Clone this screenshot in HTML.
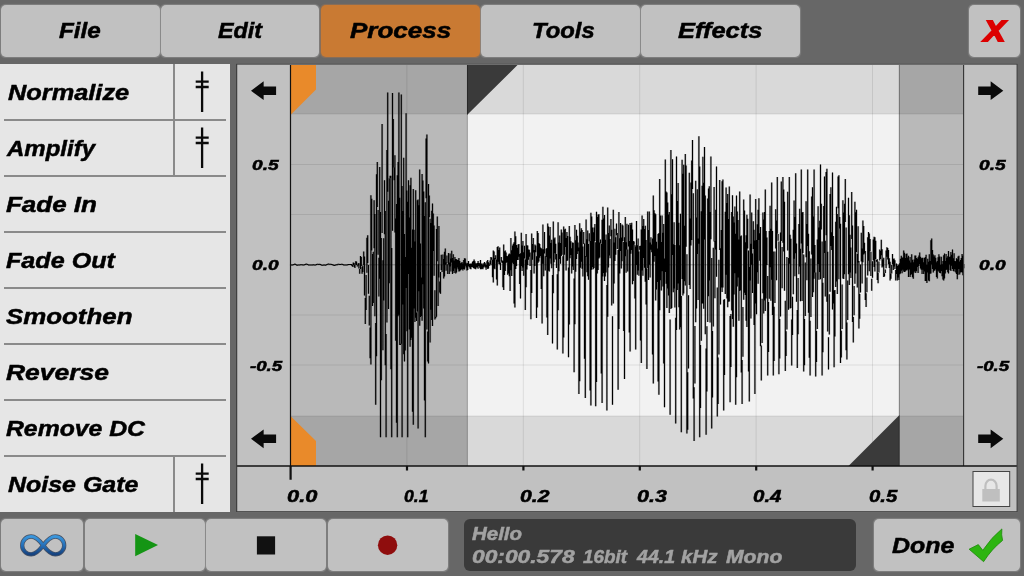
<!DOCTYPE html>
<html lang="en">
<head>
<meta charset="utf-8">
<title>Audio Editor</title>
<style>
html,body{margin:0;padding:0;}
body{width:1024px;height:576px;overflow:hidden;background:#676767;position:relative;
 font-family:"Liberation Sans",sans-serif;font-weight:bold;font-style:italic;}
ul{list-style:none;margin:0;padding:0;}
.btn,.t,.row,.sep,.vsep,svg,#side,#panel,#info{position:absolute;}
.t{white-space:nowrap;transform-origin:0 50%;display:block;}
.btn{background:#c1c1c1;border-radius:5px;box-shadow:0 0 1px 0.4px rgba(160,160,160,.45);}
.btn.on{background:#c97a33;box-shadow:0 0 1px 0.4px rgba(180,120,70,.45);}
#side{left:0;top:63.5px;width:230.3px;height:448.5px;background:#e6e6e6;}
.row{left:0;width:230.3px;height:56px;}
.sep{left:4px;top:-1px;width:222px;height:2px;background:#8a8a8a;}
.vsep{left:173px;top:0;width:2px;height:56px;background:#8a8a8a;}
.sl{left:190px;top:0;}
#panel{left:236px;top:63px;width:782px;height:450px;}
#info{left:463.6px;top:519px;width:392.6px;height:52.2px;background:#3a3a3a;border-radius:6px;}
</style>
</head>
<body>
<nav id="topbar">
<div class="btn" style="left:1.3px;top:4.6px;width:158.5px;height:52.2px"><span class="t" id="top_File" style="left:57.95px;top:13.60px;font-size:21.37px;line-height:26px;-webkit-text-stroke:0.5px #000;transform:scaleX(1.1342)">File</span></div>
<div class="btn" style="left:161.3px;top:4.6px;width:158.1px;height:52.2px"><span class="t" id="top_Edit" style="left:56.70px;top:13.60px;font-size:21.37px;line-height:26px;-webkit-text-stroke:0.5px #000;transform:scaleX(1.0909)">Edit</span></div>
<div class="btn on" style="left:321.3px;top:4.6px;width:158.5px;height:52.2px"><span class="t" id="top_Process" style="left:28.45px;top:13.60px;font-size:21.37px;line-height:26px;-webkit-text-stroke:0.5px #000;transform:scaleX(1.2176)">Process</span></div>
<div class="btn" style="left:481.3px;top:4.6px;width:158.3px;height:52.2px"><span class="t" id="top_Tools" style="left:51.10px;top:13.60px;font-size:21.37px;line-height:26px;-webkit-text-stroke:0.5px #000;transform:scaleX(1.1152)">Tools</span></div>
<div class="btn" style="left:641.3px;top:4.6px;width:158.3px;height:52.2px"><span class="t" id="top_Effects" style="left:36.80px;top:13.60px;font-size:21.37px;line-height:26px;-webkit-text-stroke:0.5px #000;transform:scaleX(1.1910)">Effects</span></div>
<div class="btn close" style="left:968.8px;top:4.6px;width:51.2px;height:52.2px"><span class="t" id="top_X" style="left:15.40px;top:7.97px;font-size:29.94px;line-height:36px;color:#dc0000;-webkit-text-stroke:1.9px #dc0000;transform:scaleX(1.0612)">X</span></div>
</nav>
<ul id="side">
<li class="row" style="top:0.5px">
<span class="t" id="row_0" style="left:7.50px;top:14.54px;font-size:22.53px;line-height:28px;-webkit-text-stroke:0.5px #000;transform:scaleX(1.1260)">Normalize</span>
<div class="vsep"></div>
<svg class="sl" width="26" height="56" viewBox="0 0 26 56"><path d="M12.1 7.4V48M5.7 17.6h13M5.7 23h13" stroke="#0a0a0a" stroke-width="2.3" fill="none"/></svg>
</li>
<li class="row" style="top:56.5px">
<div class="sep"></div>
<span class="t" id="row_1" style="left:6.75px;top:14.54px;font-size:22.53px;line-height:28px;-webkit-text-stroke:0.5px #000;transform:scaleX(1.0657)">Amplify</span>
<div class="vsep"></div>
<svg class="sl" width="26" height="56" viewBox="0 0 26 56"><path d="M12.1 7.4V48M5.7 17.6h13M5.7 23h13" stroke="#0a0a0a" stroke-width="2.3" fill="none"/></svg>
</li>
<li class="row" style="top:112.5px">
<div class="sep"></div>
<span class="t" id="row_2" style="left:6.25px;top:14.54px;font-size:22.53px;line-height:28px;-webkit-text-stroke:0.5px #000;transform:scaleX(1.1540)">Fade In</span>
</li>
<li class="row" style="top:168.5px">
<div class="sep"></div>
<span class="t" id="row_3" style="left:6.25px;top:14.54px;font-size:22.53px;line-height:28px;-webkit-text-stroke:0.5px #000;transform:scaleX(1.1165)">Fade Out</span>
</li>
<li class="row" style="top:224.5px">
<div class="sep"></div>
<span class="t" id="row_4" style="left:6.25px;top:14.54px;font-size:22.53px;line-height:28px;-webkit-text-stroke:0.5px #000;transform:scaleX(1.1490)">Smoothen</span>
</li>
<li class="row" style="top:280.5px">
<div class="sep"></div>
<span class="t" id="row_5" style="left:6.25px;top:14.54px;font-size:22.53px;line-height:28px;-webkit-text-stroke:0.5px #000;transform:scaleX(1.1746)">Reverse</span>
</li>
<li class="row" style="top:336.5px">
<div class="sep"></div>
<span class="t" id="row_6" style="left:6.25px;top:14.54px;font-size:22.53px;line-height:28px;-webkit-text-stroke:0.5px #000;transform:scaleX(1.0992)">Remove DC</span>
</li>
<li class="row" style="top:392.5px">
<div class="sep"></div>
<span class="t" id="row_7" style="left:7.50px;top:14.54px;font-size:22.53px;line-height:28px;-webkit-text-stroke:0.5px #000;transform:scaleX(1.1087)">Noise Gate</span>
<div class="vsep"></div>
<svg class="sl" width="26" height="56" viewBox="0 0 26 56"><path d="M12.1 7.4V48M5.7 17.6h13M5.7 23h13" stroke="#0a0a0a" stroke-width="2.3" fill="none"/></svg>
</li>
</ul>
<section id="panel">
<svg style="left:0;top:0" width="782" height="450" viewBox="236 63 782 450">
<rect x="236" y="63.400" width="781.800" height="449" fill="#c1c1c1"/>
<rect x="291" y="65" width="673" height="401" fill="#f2f2f2"/>
<rect x="291" y="65" width="176" height="401" fill="#b9b9b9"/>
<rect x="899" y="65" width="65" height="401" fill="#b9b9b9"/>
<rect x="291" y="65" width="673" height="49" fill="#000" fill-opacity="0.100"/>
<rect x="291" y="416" width="673" height="50" fill="#000" fill-opacity="0.100"/>
<path id="wave" d="M290.90 264.6V265.6M291.70 264.5V265.5M292.50 264.4V265.4M293.30 264.2V265.2M294.10 263.9V264.9M294.90 263.6V264.6M295.70 264.1V265.1M296.50 264.6V265.6M297.30 264.7V265.7M298.10 264.6V265.6M298.90 264.6V265.6M299.70 264.5V265.5M300.50 264.2V265.2M301.30 264.2V265.2M302.10 264.3V265.3M302.90 264.4V265.4M303.70 264.4V265.4M304.50 264.2V265.2M305.30 263.9V264.9M306.10 263.5V264.5M306.90 263.7V264.7M307.70 264.1V265.1M308.50 264.6V265.6M309.30 264.5V265.5M310.10 264.4V265.4M310.90 264.6V265.6M311.70 264.6V265.6M312.50 264.4V265.4M313.30 264.3V265.3M314.10 264.4V265.4M314.90 264.4V265.4M315.70 264.4V265.4M316.50 264.1V265.1M317.30 263.7V264.7M318.10 263.7V264.7M318.90 263.9V264.9M319.70 263.8V264.8M320.50 264.0V265.0M321.30 264.4V265.4M322.10 264.8V265.8M322.90 264.7V265.7M323.70 264.5V265.5M324.50 264.6V265.6M325.30 264.7V265.7M326.10 264.5V265.5M326.90 264.1V265.1M327.70 263.7V264.7M328.50 263.6V264.6M329.30 263.8V264.8M330.10 263.7V264.7M330.90 263.8V264.8M331.70 264.0V265.0M332.50 264.2V265.2M333.30 264.5V265.5M334.10 264.9V265.9M334.90 264.8V265.8M335.70 264.5V265.5M336.50 264.3V265.3M337.30 264.2V265.2M338.10 263.8V264.8M338.90 263.8V264.8M339.70 264.1V265.1M340.50 264.0V265.0M341.30 263.7V264.7M342.10 263.8V264.8M342.90 264.0V265.0M343.70 264.4V265.4M344.50 264.6V265.6M345.30 264.5V265.5M346.10 264.5V265.5M346.90 264.5V265.5M347.70 264.3V265.3M348.50 264.0V265.0M349.30 263.9V264.9M350.10 264.1V265.1M350.90 263.9V264.9M351.70 264.1V265.7M352.50 265.1V266.7M353.30 262.6V264.9M354.10 263.1V267.1M354.90 265.1V268.1M355.70 261.2V264.8M356.50 261.5V265.0M357.30 265.3V266.6M358.10 263.5V265.4M358.90 263.1V268.6M359.70 269.1V273.7M360.50 256.0V269.0M361.30 256.9V266.1M362.10 266.7V273.7M362.90 265.4V271.9M363.70 251.4V264.9M364.50 256.6V295.5M365.30 298.1V324.0M366.10 275.0V310.0M366.90 237.7V272.7M367.70 235.3V263.1M368.50 265.1V293.8M369.30 295.8V325.5M370.10 327.5V358.3M370.90 195.3V364.5M371.70 198.8V250.6M372.50 254.0V305.9M373.30 251.7V303.1M374.10 200.3V248.3M374.90 213.9V316.2M375.70 323.0V404.8M376.50 174.2V356.3M377.30 162.1V206.9M378.10 209.9V254.7M378.90 257.7V296.6M379.70 167.1V278.7M380.50 212.1V437.3M381.30 237.9V380.3M382.10 123.9V232.9M382.90 260.2V350.2M383.70 238.3V300.5M384.50 180.3V234.2M385.30 211.1V365.3M386.10 333.9V437.3M386.90 150.0V322.4M387.70 92.5V191.7M388.50 200.7V309.0M389.30 178.2V283.3M390.10 175.8V178.1M390.90 175.7V369.3M391.70 247.9V437.3M392.50 93.0V230.7M393.30 118.9V167.4M394.10 167.5V180.3M394.90 155.3V232.6M395.70 218.5V340.7M396.50 204.1V422.7M397.30 175.3V437.3M398.10 162.1V316.3M398.90 92.5V314.8M399.70 197.7V345.1M400.50 343.8V344.9M401.30 94.5V343.7M402.10 186.0V437.3M402.90 210.9V304.4M403.70 157.8V354.3M404.50 234.1V361.5M405.30 257.1V350.5M406.10 113.3V287.9M406.90 190.6V331.3M407.70 201.7V437.3M408.50 180.3V274.0M409.30 217.4V329.5M410.10 185.3V346.7M410.90 177.8V339.9M411.70 247.7V337.7M412.50 229.5V411.8M413.30 189.0V424.8M414.10 229.8V308.5M414.90 241.6V321.9M415.70 190.3V317.7M416.50 312.6V321.1M417.30 200.3V311.6M418.10 199.6V428.5M418.90 205.3V291.3M419.70 169.6V325.7M420.50 243.4V317.0M421.30 277.4V315.9M422.10 174.0V320.8M422.90 180.4V284.3M423.70 191.5V308.5M424.50 216.1V400.4M425.30 202.3V437.3M426.10 138.5V198.3M426.90 134.5V329.4M427.70 331.4V361.5M428.50 184.0V363.5M429.30 195.6V217.3M430.10 218.7V342.5M430.90 222.9V309.8M431.70 210.7V320.0M432.50 203.4V325.9M433.30 213.4V250.9M434.10 225.4V275.7M434.90 290.3V319.5M435.70 316.8V318.2M436.50 228.9V316.7M437.30 216.5V261.2M438.10 264.2V305.9M438.90 225.9V277.6M439.70 281.5V292.4M440.50 272.0V293.7M441.30 254.8V270.0M442.10 264.6V272.1M442.90 254.4V264.5M443.70 259.1V278.4M444.50 251.7V276.5M445.30 248.6V264.8M446.10 262.6V270.7M446.90 255.5V263.2M447.70 264.2V274.1M448.50 252.9V264.6M449.30 262.5V273.9M450.10 253.4V266.4M450.90 258.6V271.6M451.70 250.8V262.5M452.50 258.1V274.0M453.30 254.2V271.1M454.10 260.6V273.0M454.90 256.9V268.6M455.70 259.0V273.4M456.50 259.3V272.5M457.30 259.9V267.5M458.10 259.7V269.3M458.90 257.9V271.5M459.70 260.9V271.2M460.50 263.3V270.2M461.30 262.7V269.4M462.10 262.0V269.3M462.90 263.6V270.6M463.70 260.1V268.9M464.50 258.3V269.6M465.30 258.5V265.8M466.10 262.8V267.6M466.90 263.7V270.5M467.70 262.9V269.9M468.50 261.1V266.3M469.30 263.8V267.3M470.10 263.8V268.7M470.90 263.5V269.2M471.70 263.4V267.0M472.50 261.7V267.0M473.30 261.0V268.1M474.10 259.6V268.4M474.90 261.3V268.7M475.70 263.2V269.2M476.50 263.5V267.4M477.30 263.1V267.4M478.10 260.9V268.8M478.90 263.0V266.0M479.70 263.3V267.8M480.50 260.1V269.2M481.30 263.4V269.2M482.10 263.5V268.7M482.90 264.8V269.2M483.70 263.3V267.5M484.50 262.1V266.5M485.30 263.3V267.6M486.10 265.0V269.8M486.90 261.3V267.5M487.70 260.1V268.9M488.50 262.2V268.4M489.30 263.4V265.9M490.10 260.5V264.1M490.90 257.1V265.3M491.70 257.5V259.7M492.50 259.8V277.3M493.30 250.4V282.5M494.10 251.5V268.5M494.90 258.1V269.2M495.70 255.3V259.3M496.50 259.6V279.4M497.30 247.0V285.5M498.10 246.3V261.7M498.90 250.0V264.0M499.70 247.6V264.4M500.50 262.5V270.0M501.30 257.1V261.8M502.10 260.2V263.1M502.90 261.1V287.3M503.70 244.6V289.9M504.50 251.2V275.0M505.30 250.4V270.9M506.10 252.5V263.2M506.90 256.1V262.3M507.70 256.3V274.8M508.50 254.6V273.5M509.30 253.4V276.3M510.10 254.2V291.1M510.90 238.0V270.3M511.70 250.2V275.9M512.50 245.5V262.8M513.30 243.7V264.0M514.10 242.3V303.4M514.90 231.6V307.5M515.70 236.3V268.9M516.50 244.9V266.1M517.30 247.8V260.0M518.10 244.4V260.0M518.90 244.1V256.8M519.70 253.9V284.1M520.50 253.3V298.5M521.30 232.8V265.9M522.10 245.4V270.9M522.90 241.0V267.6M523.70 252.2V275.7M524.50 245.7V258.5M525.30 259.5V309.9M526.10 234.0V287.3M526.90 245.2V269.4M527.70 245.5V265.0M528.50 249.5V259.8M529.30 249.8V256.7M530.10 252.4V266.0M530.90 270.1V319.3M531.70 233.6V292.9M532.50 244.0V259.7M533.30 238.0V252.5M534.10 249.9V273.5M534.90 244.5V266.1M535.70 245.4V252.3M536.50 256.3V318.0M537.30 231.1V307.6M538.10 233.1V262.8M538.90 242.9V261.5M539.70 244.0V257.7M540.50 247.5V255.9M541.30 248.2V289.0M542.10 249.3V323.5M542.90 224.6V263.7M543.70 249.3V276.2M544.50 232.1V253.5M545.30 256.2V270.5M546.10 248.7V257.1M546.90 248.1V317.5M547.70 223.6V334.9M548.50 226.6V270.7M549.30 235.5V271.4M550.10 227.1V258.5M550.90 243.1V263.7M551.70 239.8V268.2M552.50 275.1V343.5M553.30 221.6V293.3M554.10 238.4V262.3M554.90 237.4V253.2M555.70 243.8V259.5M556.50 254.0V268.1M557.30 274.3V349.5M558.10 222.3V310.3M558.90 242.4V271.2M559.70 235.4V259.0M560.50 243.0V263.8M561.30 229.5V256.0M562.10 232.5V254.7M562.90 256.2V353.5M563.70 226.4V337.6M564.50 229.6V254.8M565.30 228.7V247.1M566.10 237.9V270.5M566.90 232.1V261.0M567.70 236.1V260.4M568.50 267.4V357.3M569.30 225.9V324.5M570.10 236.8V258.2M570.90 241.2V254.9M571.70 248.3V273.6M572.50 242.4V266.5M573.30 242.8V269.9M574.10 278.5V372.3M574.90 225.1V324.2M575.70 240.2V271.7M576.50 229.7V259.1M577.30 235.7V253.9M578.10 242.5V251.3M578.90 247.6V394.0M579.70 223.3V381.3M580.50 231.6V267.8M581.30 228.3V261.8M582.10 230.1V268.7M582.90 246.5V276.4M583.70 232.0V244.1M584.50 243.5V358.7M585.30 256.0V398.0M586.10 219.6V256.7M586.90 239.2V272.2M587.70 230.6V276.2M588.50 243.9V279.7M589.30 233.2V241.3M590.10 241.1V390.4M590.90 212.8V405.5M591.70 216.5V269.8M592.50 227.5V267.0M593.30 232.2V269.2M594.10 227.6V267.9M594.90 224.1V241.0M595.70 242.2V406.3M596.50 211.8V382.0M597.30 217.1V273.6M598.10 214.4V269.9M598.90 214.2V258.6M599.70 242.6V257.6M600.50 239.6V243.6M601.30 243.9V373.6M602.10 219.7V403.0M602.90 206.7V276.6M603.70 218.6V273.0M604.50 215.0V281.0M605.30 239.7V276.4M606.10 234.4V272.4M606.90 285.0V410.5M607.70 207.4V316.8M608.50 233.0V267.6M609.30 225.4V255.6M610.10 239.0V258.2M610.90 219.1V236.2M611.70 229.8V305.5M612.50 316.3V404.8M613.30 209.7V303.6M614.10 242.5V283.4M614.90 228.8V260.9M615.70 237.3V254.8M616.50 223.4V235.3M617.30 233.1V249.0M618.10 250.1V389.8M618.90 211.9V328.9M619.70 238.3V273.5M620.50 223.1V250.9M621.30 237.6V268.6M622.10 224.4V261.2M622.90 225.4V240.9M623.70 241.9V331.0M624.50 237.3V379.0M625.30 217.0V256.2M626.10 242.2V272.7M626.90 223.8V249.4M627.70 249.6V271.6M628.50 224.8V246.5M629.30 241.0V332.4M630.10 223.0V351.5M630.90 225.1V253.8M631.70 222.8V249.9M632.50 229.5V284.2M633.30 240.9V281.1M634.10 241.5V244.7M634.90 244.9V298.4M635.70 246.6V349.5M636.50 221.1V265.1M637.30 245.3V274.8M638.10 238.5V270.5M638.90 251.6V275.7M639.70 246.1V249.8M640.50 245.8V340.6M641.30 229.4V363.0M642.10 215.4V270.5M642.90 226.1V275.7M643.70 218.9V258.1M644.50 228.9V267.8M645.30 225.7V281.7M646.10 240.0V304.5M646.90 268.4V369.0M647.70 211.5V267.9M648.50 229.9V279.9M649.30 211.5V264.7M650.10 242.5V277.6M650.90 237.2V249.7M651.70 244.4V252.2M652.50 238.6V354.6M653.30 195.5V383.5M654.10 210.2V261.7M654.90 213.3V256.1M655.70 214.3V300.6M656.50 241.8V289.6M657.30 248.4V281.9M658.10 234.1V381.4M658.90 232.9V394.8M659.70 179.0V310.2M660.50 215.6V280.2M661.30 241.9V290.5M662.10 215.6V271.3M662.90 232.7V286.5M663.70 224.1V363.4M664.50 258.6V407.3M665.30 159.5V271.9M666.10 191.4V283.7M666.90 192.5V308.0M667.70 202.4V288.4M668.50 214.5V295.6M669.30 212.0V312.9M670.10 319.5V414.8M670.90 150.0V308.9M671.70 194.3V307.9M672.50 159.2V255.1M673.30 244.2V292.2M674.10 222.3V288.4M674.90 245.0V307.4M675.70 317.8V423.5M676.50 156.5V330.0M677.30 201.0V290.1M678.10 183.1V283.4M678.90 222.7V307.2M679.70 245.2V329.5M680.50 213.8V327.2M681.30 296.0V432.3M682.10 159.7V279.0M682.90 173.8V295.6M683.70 164.8V293.6M684.50 225.8V281.3M685.30 154.0V285.6M686.10 165.5V246.7M686.90 254.3V433.5M687.70 372.3V429.7M688.50 295.3V368.4M689.30 172.7V285.1M690.10 218.5V288.9M690.90 182.6V245.5M691.70 160.6V240.1M692.50 140.0V189.1M693.30 193.2V398.6M694.10 387.3V441.0M694.90 326.0V383.5M695.70 180.7V322.2M696.50 217.6V308.6M697.30 189.2V253.9M698.10 238.5V300.1M698.90 136.3V243.7M699.70 166.4V437.3M700.50 344.9V407.9M701.30 211.3V340.7M702.10 185.7V303.4M702.90 156.8V303.6M703.70 182.7V308.8M704.50 147.0V239.4M705.30 195.5V334.2M706.10 348.6V434.8M706.90 326.3V391.4M707.70 198.4V322.0M708.50 188.4V296.3M709.30 186.2V280.6M710.10 212.1V322.5M710.90 156.5V239.2M711.70 258.1V428.5M712.50 331.0V397.5M713.30 247.8V326.6M714.10 187.1V241.6M714.90 240.9V298.2M715.70 209.8V249.5M716.50 166.5V276.7M717.30 287.4V416.5M718.10 357.6V404.1M718.90 259.7V354.5M719.70 179.9V249.9M720.50 248.3V304.4M721.30 230.1V287.5M722.10 181.2V291.9M722.90 179.5V287.4M723.70 299.7V410.5M724.50 299.2V375.1M725.30 211.7V294.1M726.10 187.4V274.8M726.90 203.1V298.6M727.70 194.0V307.2M728.50 219.1V301.7M729.30 186.5V301.6M730.10 316.0V402.3M730.90 313.9V366.9M731.70 211.9V310.4M732.50 195.3V318.9M733.30 216.5V326.7M734.10 222.5V294.4M734.90 206.5V273.3M735.70 233.8V404.8M736.50 195.5V377.2M737.30 211.4V286.4M738.10 219.9V277.6M738.90 239.4V320.8M739.70 191.5V291.1M740.50 236.3V290.2M741.30 235.5V372.6M742.10 360.0V404.0M742.90 307.1V356.8M743.70 199.5V299.7M744.50 210.5V292.7M745.30 242.3V295.0M746.10 235.3V320.7M746.90 214.7V327.0M747.70 218.7V248.5M748.50 250.5V371.5M749.30 266.9V401.5M750.10 194.5V280.4M750.90 243.7V318.6M751.70 212.6V264.7M752.50 253.4V293.1M753.30 221.3V249.0M754.10 229.7V324.9M754.90 240.5V394.0M755.70 199.1V303.4M756.50 240.1V314.2M757.30 224.3V272.2M758.10 209.7V283.8M758.90 198.3V240.1M759.70 233.2V260.8M760.50 226.9V346.2M761.30 345.6V380.5M762.10 298.8V342.9M762.90 212.6V293.2M763.70 219.4V313.4M764.50 211.9V300.5M765.30 189.5V310.9M766.10 231.0V298.5M766.90 237.4V265.0M767.70 276.1V375.5M768.50 302.0V352.1M769.30 231.0V298.7M770.10 205.8V267.2M770.90 228.7V300.8M771.70 182.5V279.8M772.50 231.0V315.1M773.30 251.6V375.5M774.10 306.7V361.0M774.90 251.4V303.1M775.70 209.2V248.5M776.50 220.6V280.3M777.30 177.0V233.7M778.10 234.1V240.7M778.90 241.4V374.3M779.70 319.0V358.5M780.50 232.4V316.4M781.30 181.6V241.1M782.10 247.0V288.3M782.90 177.0V242.8M783.70 189.4V251.6M784.50 201.7V290.7M785.30 300.7V371.0M786.10 331.3V356.1M786.90 257.0V329.6M787.70 191.7V250.5M788.50 257.9V309.7M789.30 177.0V263.8M790.10 234.8V308.5M790.90 238.8V307.9M791.70 319.4V365.5M792.50 296.8V335.0M793.30 229.7V294.3M794.10 200.6V258.7M794.90 217.1V276.2M795.70 173.3V253.2M796.50 243.6V301.7M797.30 310.0V368.0M798.10 278.0V334.2M798.90 224.1V274.2M799.70 208.8V266.6M800.50 248.7V301.2M801.30 169.5V243.5M802.10 212.5V300.9M802.90 212.1V253.1M803.70 254.4V371.5M804.50 319.1V365.3M805.30 262.4V316.0M806.10 201.2V257.3M806.90 223.9V280.2M807.70 169.5V246.1M808.50 233.7V312.7M809.30 251.2V357.7M810.10 320.8V375.5M810.90 258.4V316.9M811.70 196.5V254.5M812.50 187.3V297.1M813.30 216.4V292.2M814.10 169.5V278.7M814.90 245.1V272.4M815.70 272.5V376.5M816.50 330.9V362.0M817.30 239.6V328.9M818.10 206.3V264.0M818.90 227.6V279.7M819.70 220.7V271.9M820.50 164.5V279.2M821.30 203.8V229.4M822.10 241.5V375.5M822.90 282.7V352.3M823.70 206.1V278.1M824.50 176.5V252.9M825.30 240.8V296.5M826.10 172.0V235.3M826.90 168.8V301.7M827.70 251.8V331.6M828.50 337.3V369.5M829.30 294.3V334.6M830.10 194.1V291.7M830.90 187.2V246.1M831.70 232.3V250.0M832.50 172.5V309.5M833.30 236.0V303.4M834.10 290.4V367.3M834.90 290.0V336.4M835.70 221.8V286.9M836.50 206.8V281.6M837.30 214.1V294.0M838.10 176.5V208.2M838.90 175.3V279.3M839.70 217.0V228.4M840.50 223.7V363.0M841.30 330.8V357.6M842.10 284.6V329.0M842.90 200.2V278.5M843.70 212.4V278.9M844.50 203.7V274.2M845.30 179.0V222.1M846.10 227.5V350.2M846.90 322.4V359.5M847.70 280.4V319.9M848.50 197.8V274.2M849.30 215.2V284.9M850.10 234.8V272.6M850.90 247.5V278.1M851.70 192.0V239.0M852.50 225.6V322.0M853.30 317.1V342.5M854.10 285.9V315.2M854.90 201.8V283.8M855.70 212.3V273.5M856.50 209.8V252.0M857.30 254.1V287.6M858.10 226.3V262.6M858.90 260.9V328.5M859.70 294.0V318.7M860.50 264.4V292.4M861.30 232.7V261.5M862.10 248.6V283.4M862.90 220.5V262.2M863.70 226.1V254.5M864.50 242.7V253.6M865.30 251.1V299.9M866.10 293.2V307.0M866.90 277.5V292.3M867.70 237.2V275.4M868.50 232.1V260.8M869.30 233.5V271.3M870.10 238.9V251.2M870.90 251.7V275.9M871.70 278.8V290.8M872.50 261.3V277.7M873.30 239.5V260.2M874.10 236.7V267.1M874.90 237.3V271.4M875.70 240.7V259.1M876.50 259.7V261.8M877.30 259.2V280.0M878.10 273.1V283.3M878.90 261.5V272.4M879.70 249.5V260.6M880.50 250.8V259.1M881.30 239.8V255.3M882.10 249.3V267.5M882.90 259.6V266.6M883.70 257.8V277.0M884.50 273.2V276.6M885.30 269.5V273.0M886.10 250.5V268.3M886.90 247.2V256.7M887.70 248.0V259.6M888.50 249.9V264.3M889.30 258.3V268.0M890.10 261.8V280.5M890.90 273.7V278.8M891.70 265.1V273.4M892.50 254.1V264.2M893.30 258.8V269.9M894.10 258.5V266.6M894.90 260.3V269.1M895.70 269.9V280.6M896.50 263.4V274.0M897.30 266.0V280.6M898.10 264.5V277.5M898.90 265.3V280.0M899.70 263.3V274.3M900.50 258.8V273.6M901.30 255.8V270.7M902.10 257.5V273.3M902.90 257.5V269.8M903.70 250.6V271.6M904.50 252.8V272.0M905.30 258.1V271.4M906.10 253.9V270.3M906.90 253.5V270.6M907.70 257.6V269.4M908.50 255.8V277.1M909.30 260.4V269.6M910.10 256.9V276.9M910.90 262.4V275.1M911.70 254.3V274.0M912.50 259.8V277.3M913.30 262.3V278.7M914.10 259.6V272.5M914.90 255.4V271.2M915.70 255.5V272.9M916.50 257.9V271.3M917.30 258.7V267.0M918.10 257.3V272.9M918.90 255.4V266.1M919.70 252.4V263.9M920.50 256.8V268.4M921.30 258.3V269.7M922.10 257.8V273.9M922.90 257.8V269.8M923.70 262.2V273.9M924.50 257.9V271.5M925.30 256.9V280.9M926.10 254.8V281.0M926.90 264.7V283.0M927.70 258.7V272.4M928.50 261.7V280.6M929.30 254.2V281.3M930.10 260.9V273.8M930.90 240.2V273.6M931.70 238.6V264.5M932.50 250.1V269.0M933.30 254.6V272.4M934.10 256.5V270.7M934.90 255.2V270.5M935.70 257.7V269.3M936.50 262.3V277.1M937.30 260.9V278.5M938.10 257.2V270.8M938.90 254.2V271.7M939.70 256.6V273.0M940.50 264.7V273.3M941.30 256.8V271.1M942.10 264.2V276.2M942.90 261.0V279.6M943.70 255.3V280.6M944.50 253.4V278.4M945.30 260.9V273.5M946.10 254.1V270.0M946.90 257.7V269.5M947.70 256.3V272.3M948.50 250.9V273.6M949.30 257.1V264.6M950.10 256.4V270.1M950.90 252.1V271.1M951.70 254.8V265.7M952.50 249.6V268.9M953.30 258.3V271.0M954.10 253.2V271.4M954.90 261.0V269.1M955.70 261.2V272.6M956.50 258.2V273.9M957.30 259.2V279.2M958.10 256.5V274.8M958.90 255.8V269.1M959.70 261.6V274.4M960.50 259.9V272.5M961.30 258.1V272.1M962.10 254.1V272.5M962.90 255.8V275.2M963.70 264.1V268.3" fill="none" stroke="#000" stroke-width="1.10"/><path id="wave-soft" d="M290.90 264.6V265.6M291.70 264.5V265.5M292.50 264.4V265.4M293.30 264.2V265.2M294.10 263.9V264.9M294.90 263.6V264.6M295.70 264.1V265.1M296.50 264.6V265.6M297.30 264.7V265.7M298.10 264.6V265.6M298.90 264.6V265.6M299.70 264.5V265.5M300.50 264.2V265.2M301.30 264.2V265.2M302.10 264.3V265.3M302.90 264.4V265.4M303.70 264.4V265.4M304.50 264.2V265.2M305.30 263.9V264.9M306.10 263.5V264.5M306.90 263.7V264.7M307.70 264.1V265.1M308.50 264.6V265.6M309.30 264.5V265.5M310.10 264.4V265.4M310.90 264.6V265.6M311.70 264.6V265.6M312.50 264.4V265.4M313.30 264.3V265.3M314.10 264.4V265.4M314.90 264.4V265.4M315.70 264.4V265.4M316.50 264.1V265.1M317.30 263.7V264.7M318.10 263.7V264.7M318.90 263.9V264.9M319.70 263.8V264.8M320.50 264.0V265.0M321.30 264.4V265.4M322.10 264.8V265.8M322.90 264.7V265.7M323.70 264.5V265.5M324.50 264.6V265.6M325.30 264.7V265.7M326.10 264.5V265.5M326.90 264.1V265.1M327.70 263.7V264.7M328.50 263.6V264.6M329.30 263.8V264.8M330.10 263.7V264.7M330.90 263.8V264.8M331.70 264.0V265.0M332.50 264.2V265.2M333.30 264.5V265.5M334.10 264.9V265.9M334.90 264.8V265.8M335.70 264.5V265.5M336.50 264.3V265.3M337.30 264.2V265.2M338.10 263.8V264.8M338.90 263.8V264.8M339.70 264.1V265.1M340.50 264.0V265.0M341.30 263.7V264.7M342.10 263.8V264.8M342.90 264.0V265.0M343.70 264.4V265.4M344.50 264.6V265.6M345.30 264.5V265.5M346.10 264.5V265.5M346.90 264.5V265.5M347.70 264.3V265.3M348.50 264.0V265.0M349.30 263.9V264.9M350.10 264.1V265.1M350.90 263.9V264.9M351.70 264.1V265.7M352.50 265.1V266.7M353.30 262.6V264.9M354.10 263.1V267.1M354.90 265.1V268.1M355.70 261.2V264.8M356.50 261.5V265.0M357.30 265.3V266.6M358.10 263.5V265.4M358.90 263.1V268.6M359.70 269.1V273.7M360.50 256.0V269.0M361.30 256.9V266.1M362.10 266.7V273.7M362.90 265.4V271.9M363.70 251.4V264.9M364.50 256.6V295.5M365.30 298.1V324.0M366.10 275.0V310.0M366.90 237.7V272.7M367.70 235.3V263.1M368.50 265.1V293.8M369.30 295.8V325.5M370.10 327.5V358.3M370.90 195.3V364.5M371.70 198.8V250.6M372.50 254.0V305.9M373.30 251.7V303.1M374.10 200.3V248.3M374.90 213.9V316.2M375.70 323.0V404.8M376.50 174.2V356.3M377.30 162.1V206.9M378.10 209.9V254.7M378.90 257.7V296.6M379.70 167.1V278.7M380.50 212.1V437.3M381.30 237.9V380.3M382.10 123.9V232.9M382.90 260.2V350.2M383.70 238.3V300.5M384.50 180.3V234.2M385.30 211.1V365.3M386.10 333.9V437.3M386.90 150.0V322.4M387.70 92.5V191.7M388.50 200.7V309.0M389.30 178.2V283.3M390.10 175.8V178.1M390.90 175.7V369.3M391.70 247.9V437.3M392.50 93.0V230.7M393.30 118.9V167.4M394.10 167.5V180.3M394.90 155.3V232.6M395.70 218.5V340.7M396.50 204.1V422.7M397.30 175.3V437.3M398.10 162.1V316.3M398.90 92.5V314.8M399.70 197.7V345.1M400.50 343.8V344.9M401.30 94.5V343.7M402.10 186.0V437.3M402.90 210.9V304.4M403.70 157.8V354.3M404.50 234.1V361.5M405.30 257.1V350.5M406.10 113.3V287.9M406.90 190.6V331.3M407.70 201.7V437.3M408.50 180.3V274.0M409.30 217.4V329.5M410.10 185.3V346.7M410.90 177.8V339.9M411.70 247.7V337.7M412.50 229.5V411.8M413.30 189.0V424.8M414.10 229.8V308.5M414.90 241.6V321.9M415.70 190.3V317.7M416.50 312.6V321.1M417.30 200.3V311.6M418.10 199.6V428.5M418.90 205.3V291.3M419.70 169.6V325.7M420.50 243.4V317.0M421.30 277.4V315.9M422.10 174.0V320.8M422.90 180.4V284.3M423.70 191.5V308.5M424.50 216.1V400.4M425.30 202.3V437.3M426.10 138.5V198.3M426.90 134.5V329.4M427.70 331.4V361.5M428.50 184.0V363.5M429.30 195.6V217.3M430.10 218.7V342.5M430.90 222.9V309.8M431.70 210.7V320.0M432.50 203.4V325.9M433.30 213.4V250.9M434.10 225.4V275.7M434.90 290.3V319.5M435.70 316.8V318.2M436.50 228.9V316.7M437.30 216.5V261.2M438.10 264.2V305.9M438.90 225.9V277.6M439.70 281.5V292.4M440.50 272.0V293.7M441.30 254.8V270.0M442.10 264.6V272.1M442.90 254.4V264.5M443.70 259.1V278.4M444.50 251.7V276.5M445.30 248.6V264.8M446.10 262.6V270.7M446.90 255.5V263.2M447.70 264.2V274.1M448.50 252.9V264.6M449.30 262.5V273.9M450.10 253.4V266.4M450.90 258.6V271.6M451.70 250.8V262.5M452.50 258.1V274.0M453.30 254.2V271.1M454.10 260.6V273.0M454.90 256.9V268.6M455.70 259.0V273.4M456.50 259.3V272.5M457.30 259.9V267.5M458.10 259.7V269.3M458.90 257.9V271.5M459.70 260.9V271.2M460.50 263.3V270.2M461.30 262.7V269.4M462.10 262.0V269.3M462.90 263.6V270.6M463.70 260.1V268.9M464.50 258.3V269.6M465.30 258.5V265.8M466.10 262.8V267.6M466.90 263.7V270.5M467.70 262.9V269.9M468.50 261.1V266.3M469.30 263.8V267.3M470.10 263.8V268.7M470.90 263.5V269.2M471.70 263.4V267.0M472.50 261.7V267.0M473.30 261.0V268.1M474.10 259.6V268.4M474.90 261.3V268.7M475.70 263.2V269.2M476.50 263.5V267.4M477.30 263.1V267.4M478.10 260.9V268.8M478.90 263.0V266.0M479.70 263.3V267.8M480.50 260.1V269.2M481.30 263.4V269.2M482.10 263.5V268.7M482.90 264.8V269.2M483.70 263.3V267.5M484.50 262.1V266.5M485.30 263.3V267.6M486.10 265.0V269.8M486.90 261.3V267.5M487.70 260.1V268.9M488.50 262.2V268.4M489.30 263.4V265.9M490.10 260.5V264.1M490.90 257.1V265.3M491.70 257.5V259.7M492.50 259.8V277.3M493.30 250.4V282.5M494.10 251.5V268.5M494.90 258.1V269.2M495.70 255.3V259.3M496.50 259.6V279.4M497.30 247.0V285.5M498.10 246.3V261.7M498.90 250.0V264.0M499.70 247.6V264.4M500.50 262.5V270.0M501.30 257.1V261.8M502.10 260.2V263.1M502.90 261.1V287.3M503.70 244.6V289.9M504.50 251.2V275.0M505.30 250.4V270.9M506.10 252.5V263.2M506.90 256.1V262.3M507.70 256.3V274.8M508.50 254.6V273.5M509.30 253.4V276.3M510.10 254.2V291.1M510.90 238.0V270.3M511.70 250.2V275.9M512.50 245.5V262.8M513.30 243.7V264.0M514.10 242.3V303.4M514.90 231.6V307.5M515.70 236.3V268.9M516.50 244.9V266.1M517.30 247.8V260.0M518.10 244.4V260.0M518.90 244.1V256.8M519.70 253.9V284.1M520.50 253.3V298.5M521.30 232.8V265.9M522.10 245.4V270.9M522.90 241.0V267.6M523.70 252.2V275.7M524.50 245.7V258.5M525.30 259.5V309.9M526.10 234.0V287.3M526.90 245.2V269.4M527.70 245.5V265.0M528.50 249.5V259.8M529.30 249.8V256.7M530.10 252.4V266.0M530.90 270.1V319.3M531.70 233.6V292.9M532.50 244.0V259.7M533.30 238.0V252.5M534.10 249.9V273.5M534.90 244.5V266.1M535.70 245.4V252.3M536.50 256.3V318.0M537.30 231.1V307.6M538.10 233.1V262.8M538.90 242.9V261.5M539.70 244.0V257.7M540.50 247.5V255.9M541.30 248.2V289.0M542.10 249.3V323.5M542.90 224.6V263.7M543.70 249.3V276.2M544.50 232.1V253.5M545.30 256.2V270.5M546.10 248.7V257.1M546.90 248.1V317.5M547.70 223.6V334.9M548.50 226.6V270.7M549.30 235.5V271.4M550.10 227.1V258.5M550.90 243.1V263.7M551.70 239.8V268.2M552.50 275.1V343.5M553.30 221.6V293.3M554.10 238.4V262.3M554.90 237.4V253.2M555.70 243.8V259.5M556.50 254.0V268.1M557.30 274.3V349.5M558.10 222.3V310.3M558.90 242.4V271.2M559.70 235.4V259.0M560.50 243.0V263.8M561.30 229.5V256.0M562.10 232.5V254.7M562.90 256.2V353.5M563.70 226.4V337.6M564.50 229.6V254.8M565.30 228.7V247.1M566.10 237.9V270.5M566.90 232.1V261.0M567.70 236.1V260.4M568.50 267.4V357.3M569.30 225.9V324.5M570.10 236.8V258.2M570.90 241.2V254.9M571.70 248.3V273.6M572.50 242.4V266.5M573.30 242.8V269.9M574.10 278.5V372.3M574.90 225.1V324.2M575.70 240.2V271.7M576.50 229.7V259.1M577.30 235.7V253.9M578.10 242.5V251.3M578.90 247.6V394.0M579.70 223.3V381.3M580.50 231.6V267.8M581.30 228.3V261.8M582.10 230.1V268.7M582.90 246.5V276.4M583.70 232.0V244.1M584.50 243.5V358.7M585.30 256.0V398.0M586.10 219.6V256.7M586.90 239.2V272.2M587.70 230.6V276.2M588.50 243.9V279.7M589.30 233.2V241.3M590.10 241.1V390.4M590.90 212.8V405.5M591.70 216.5V269.8M592.50 227.5V267.0M593.30 232.2V269.2M594.10 227.6V267.9M594.90 224.1V241.0M595.70 242.2V406.3M596.50 211.8V382.0M597.30 217.1V273.6M598.10 214.4V269.9M598.90 214.2V258.6M599.70 242.6V257.6M600.50 239.6V243.6M601.30 243.9V373.6M602.10 219.7V403.0M602.90 206.7V276.6M603.70 218.6V273.0M604.50 215.0V281.0M605.30 239.7V276.4M606.10 234.4V272.4M606.90 285.0V410.5M607.70 207.4V316.8M608.50 233.0V267.6M609.30 225.4V255.6M610.10 239.0V258.2M610.90 219.1V236.2M611.70 229.8V305.5M612.50 316.3V404.8M613.30 209.7V303.6M614.10 242.5V283.4M614.90 228.8V260.9M615.70 237.3V254.8M616.50 223.4V235.3M617.30 233.1V249.0M618.10 250.1V389.8M618.90 211.9V328.9M619.70 238.3V273.5M620.50 223.1V250.9M621.30 237.6V268.6M622.10 224.4V261.2M622.90 225.4V240.9M623.70 241.9V331.0M624.50 237.3V379.0M625.30 217.0V256.2M626.10 242.2V272.7M626.90 223.8V249.4M627.70 249.6V271.6M628.50 224.8V246.5M629.30 241.0V332.4M630.10 223.0V351.5M630.90 225.1V253.8M631.70 222.8V249.9M632.50 229.5V284.2M633.30 240.9V281.1M634.10 241.5V244.7M634.90 244.9V298.4M635.70 246.6V349.5M636.50 221.1V265.1M637.30 245.3V274.8M638.10 238.5V270.5M638.90 251.6V275.7M639.70 246.1V249.8M640.50 245.8V340.6M641.30 229.4V363.0M642.10 215.4V270.5M642.90 226.1V275.7M643.70 218.9V258.1M644.50 228.9V267.8M645.30 225.7V281.7M646.10 240.0V304.5M646.90 268.4V369.0M647.70 211.5V267.9M648.50 229.9V279.9M649.30 211.5V264.7M650.10 242.5V277.6M650.90 237.2V249.7M651.70 244.4V252.2M652.50 238.6V354.6M653.30 195.5V383.5M654.10 210.2V261.7M654.90 213.3V256.1M655.70 214.3V300.6M656.50 241.8V289.6M657.30 248.4V281.9M658.10 234.1V381.4M658.90 232.9V394.8M659.70 179.0V310.2M660.50 215.6V280.2M661.30 241.9V290.5M662.10 215.6V271.3M662.90 232.7V286.5M663.70 224.1V363.4M664.50 258.6V407.3M665.30 159.5V271.9M666.10 191.4V283.7M666.90 192.5V308.0M667.70 202.4V288.4M668.50 214.5V295.6M669.30 212.0V312.9M670.10 319.5V414.8M670.90 150.0V308.9M671.70 194.3V307.9M672.50 159.2V255.1M673.30 244.2V292.2M674.10 222.3V288.4M674.90 245.0V307.4M675.70 317.8V423.5M676.50 156.5V330.0M677.30 201.0V290.1M678.10 183.1V283.4M678.90 222.7V307.2M679.70 245.2V329.5M680.50 213.8V327.2M681.30 296.0V432.3M682.10 159.7V279.0M682.90 173.8V295.6M683.70 164.8V293.6M684.50 225.8V281.3M685.30 154.0V285.6M686.10 165.5V246.7M686.90 254.3V433.5M687.70 372.3V429.7M688.50 295.3V368.4M689.30 172.7V285.1M690.10 218.5V288.9M690.90 182.6V245.5M691.70 160.6V240.1M692.50 140.0V189.1M693.30 193.2V398.6M694.10 387.3V441.0M694.90 326.0V383.5M695.70 180.7V322.2M696.50 217.6V308.6M697.30 189.2V253.9M698.10 238.5V300.1M698.90 136.3V243.7M699.70 166.4V437.3M700.50 344.9V407.9M701.30 211.3V340.7M702.10 185.7V303.4M702.90 156.8V303.6M703.70 182.7V308.8M704.50 147.0V239.4M705.30 195.5V334.2M706.10 348.6V434.8M706.90 326.3V391.4M707.70 198.4V322.0M708.50 188.4V296.3M709.30 186.2V280.6M710.10 212.1V322.5M710.90 156.5V239.2M711.70 258.1V428.5M712.50 331.0V397.5M713.30 247.8V326.6M714.10 187.1V241.6M714.90 240.9V298.2M715.70 209.8V249.5M716.50 166.5V276.7M717.30 287.4V416.5M718.10 357.6V404.1M718.90 259.7V354.5M719.70 179.9V249.9M720.50 248.3V304.4M721.30 230.1V287.5M722.10 181.2V291.9M722.90 179.5V287.4M723.70 299.7V410.5M724.50 299.2V375.1M725.30 211.7V294.1M726.10 187.4V274.8M726.90 203.1V298.6M727.70 194.0V307.2M728.50 219.1V301.7M729.30 186.5V301.6M730.10 316.0V402.3M730.90 313.9V366.9M731.70 211.9V310.4M732.50 195.3V318.9M733.30 216.5V326.7M734.10 222.5V294.4M734.90 206.5V273.3M735.70 233.8V404.8M736.50 195.5V377.2M737.30 211.4V286.4M738.10 219.9V277.6M738.90 239.4V320.8M739.70 191.5V291.1M740.50 236.3V290.2M741.30 235.5V372.6M742.10 360.0V404.0M742.90 307.1V356.8M743.70 199.5V299.7M744.50 210.5V292.7M745.30 242.3V295.0M746.10 235.3V320.7M746.90 214.7V327.0M747.70 218.7V248.5M748.50 250.5V371.5M749.30 266.9V401.5M750.10 194.5V280.4M750.90 243.7V318.6M751.70 212.6V264.7M752.50 253.4V293.1M753.30 221.3V249.0M754.10 229.7V324.9M754.90 240.5V394.0M755.70 199.1V303.4M756.50 240.1V314.2M757.30 224.3V272.2M758.10 209.7V283.8M758.90 198.3V240.1M759.70 233.2V260.8M760.50 226.9V346.2M761.30 345.6V380.5M762.10 298.8V342.9M762.90 212.6V293.2M763.70 219.4V313.4M764.50 211.9V300.5M765.30 189.5V310.9M766.10 231.0V298.5M766.90 237.4V265.0M767.70 276.1V375.5M768.50 302.0V352.1M769.30 231.0V298.7M770.10 205.8V267.2M770.90 228.7V300.8M771.70 182.5V279.8M772.50 231.0V315.1M773.30 251.6V375.5M774.10 306.7V361.0M774.90 251.4V303.1M775.70 209.2V248.5M776.50 220.6V280.3M777.30 177.0V233.7M778.10 234.1V240.7M778.90 241.4V374.3M779.70 319.0V358.5M780.50 232.4V316.4M781.30 181.6V241.1M782.10 247.0V288.3M782.90 177.0V242.8M783.70 189.4V251.6M784.50 201.7V290.7M785.30 300.7V371.0M786.10 331.3V356.1M786.90 257.0V329.6M787.70 191.7V250.5M788.50 257.9V309.7M789.30 177.0V263.8M790.10 234.8V308.5M790.90 238.8V307.9M791.70 319.4V365.5M792.50 296.8V335.0M793.30 229.7V294.3M794.10 200.6V258.7M794.90 217.1V276.2M795.70 173.3V253.2M796.50 243.6V301.7M797.30 310.0V368.0M798.10 278.0V334.2M798.90 224.1V274.2M799.70 208.8V266.6M800.50 248.7V301.2M801.30 169.5V243.5M802.10 212.5V300.9M802.90 212.1V253.1M803.70 254.4V371.5M804.50 319.1V365.3M805.30 262.4V316.0M806.10 201.2V257.3M806.90 223.9V280.2M807.70 169.5V246.1M808.50 233.7V312.7M809.30 251.2V357.7M810.10 320.8V375.5M810.90 258.4V316.9M811.70 196.5V254.5M812.50 187.3V297.1M813.30 216.4V292.2M814.10 169.5V278.7M814.90 245.1V272.4M815.70 272.5V376.5M816.50 330.9V362.0M817.30 239.6V328.9M818.10 206.3V264.0M818.90 227.6V279.7M819.70 220.7V271.9M820.50 164.5V279.2M821.30 203.8V229.4M822.10 241.5V375.5M822.90 282.7V352.3M823.70 206.1V278.1M824.50 176.5V252.9M825.30 240.8V296.5M826.10 172.0V235.3M826.90 168.8V301.7M827.70 251.8V331.6M828.50 337.3V369.5M829.30 294.3V334.6M830.10 194.1V291.7M830.90 187.2V246.1M831.70 232.3V250.0M832.50 172.5V309.5M833.30 236.0V303.4M834.10 290.4V367.3M834.90 290.0V336.4M835.70 221.8V286.9M836.50 206.8V281.6M837.30 214.1V294.0M838.10 176.5V208.2M838.90 175.3V279.3M839.70 217.0V228.4M840.50 223.7V363.0M841.30 330.8V357.6M842.10 284.6V329.0M842.90 200.2V278.5M843.70 212.4V278.9M844.50 203.7V274.2M845.30 179.0V222.1M846.10 227.5V350.2M846.90 322.4V359.5M847.70 280.4V319.9M848.50 197.8V274.2M849.30 215.2V284.9M850.10 234.8V272.6M850.90 247.5V278.1M851.70 192.0V239.0M852.50 225.6V322.0M853.30 317.1V342.5M854.10 285.9V315.2M854.90 201.8V283.8M855.70 212.3V273.5M856.50 209.8V252.0M857.30 254.1V287.6M858.10 226.3V262.6M858.90 260.9V328.5M859.70 294.0V318.7M860.50 264.4V292.4M861.30 232.7V261.5M862.10 248.6V283.4M862.90 220.5V262.2M863.70 226.1V254.5M864.50 242.7V253.6M865.30 251.1V299.9M866.10 293.2V307.0M866.90 277.5V292.3M867.70 237.2V275.4M868.50 232.1V260.8M869.30 233.5V271.3M870.10 238.9V251.2M870.90 251.7V275.9M871.70 278.8V290.8M872.50 261.3V277.7M873.30 239.5V260.2M874.10 236.7V267.1M874.90 237.3V271.4M875.70 240.7V259.1M876.50 259.7V261.8M877.30 259.2V280.0M878.10 273.1V283.3M878.90 261.5V272.4M879.70 249.5V260.6M880.50 250.8V259.1M881.30 239.8V255.3M882.10 249.3V267.5M882.90 259.6V266.6M883.70 257.8V277.0M884.50 273.2V276.6M885.30 269.5V273.0M886.10 250.5V268.3M886.90 247.2V256.7M887.70 248.0V259.6M888.50 249.9V264.3M889.30 258.3V268.0M890.10 261.8V280.5M890.90 273.7V278.8M891.70 265.1V273.4M892.50 254.1V264.2M893.30 258.8V269.9M894.10 258.5V266.6M894.90 260.3V269.1M895.70 269.9V280.6M896.50 263.4V274.0M897.30 266.0V280.6M898.10 264.5V277.5M898.90 265.3V280.0M899.70 263.3V274.3M900.50 258.8V273.6M901.30 255.8V270.7M902.10 257.5V273.3M902.90 257.5V269.8M903.70 250.6V271.6M904.50 252.8V272.0M905.30 258.1V271.4M906.10 253.9V270.3M906.90 253.5V270.6M907.70 257.6V269.4M908.50 255.8V277.1M909.30 260.4V269.6M910.10 256.9V276.9M910.90 262.4V275.1M911.70 254.3V274.0M912.50 259.8V277.3M913.30 262.3V278.7M914.10 259.6V272.5M914.90 255.4V271.2M915.70 255.5V272.9M916.50 257.9V271.3M917.30 258.7V267.0M918.10 257.3V272.9M918.90 255.4V266.1M919.70 252.4V263.9M920.50 256.8V268.4M921.30 258.3V269.7M922.10 257.8V273.9M922.90 257.8V269.8M923.70 262.2V273.9M924.50 257.9V271.5M925.30 256.9V280.9M926.10 254.8V281.0M926.90 264.7V283.0M927.70 258.7V272.4M928.50 261.7V280.6M929.30 254.2V281.3M930.10 260.9V273.8M930.90 240.2V273.6M931.70 238.6V264.5M932.50 250.1V269.0M933.30 254.6V272.4M934.10 256.5V270.7M934.90 255.2V270.5M935.70 257.7V269.3M936.50 262.3V277.1M937.30 260.9V278.5M938.10 257.2V270.8M938.90 254.2V271.7M939.70 256.6V273.0M940.50 264.7V273.3M941.30 256.8V271.1M942.10 264.2V276.2M942.90 261.0V279.6M943.70 255.3V280.6M944.50 253.4V278.4M945.30 260.9V273.5M946.10 254.1V270.0M946.90 257.7V269.5M947.70 256.3V272.3M948.50 250.9V273.6M949.30 257.1V264.6M950.10 256.4V270.1M950.90 252.1V271.1M951.70 254.8V265.7M952.50 249.6V268.9M953.30 258.3V271.0M954.10 253.2V271.4M954.90 261.0V269.1M955.70 261.2V272.6M956.50 258.2V273.9M957.30 259.2V279.2M958.10 256.5V274.8M958.90 255.8V269.1M959.70 261.6V274.4M960.50 259.9V272.5M961.30 258.1V272.1M962.10 254.1V272.5M962.90 255.8V275.2M963.70 264.1V268.3" fill="none" stroke="#000" stroke-opacity="0.200" stroke-width="2.200"/>
<path d="M406.9 65V466 M523.3 65V466 M639.7 65V466 M756.1 65V466 M872.5 65V466 M291 114H964 M291 164.5H964 M291 214.5H964 M291 264.8H964 M291 315H964 M291 365H964 M291 416H964" stroke="#000" stroke-opacity="0.090" stroke-width="1" fill="none"/>
<path d="M291 264.800H964" stroke="#000" stroke-opacity="0.220" stroke-width="1" fill="none"/>
<path d="M291 65h25v24.500l-25 25z M291 416.500l25 24.500v25h-25z" fill="#e98a2a"/>
<path d="M467 65h50.500l-50.500 50z M899.500 415v51h-51z" fill="#3a3a3a"/>
<path d="M467.400 65V466M899.300 65V466" stroke="#000" stroke-opacity="0.350" stroke-width="1"/>
<path d="M290.500 65V466" stroke="#111" stroke-width="1.200" fill="none"/><path d="M963.600 65V466" stroke="#333" stroke-width="1.100" fill="none"/>
<path d="M237 465.900H1017" stroke="#111" stroke-width="1.500" fill="none"/>
<path d="M290.600 466V479.700 M407.0 466V470.500 M523.4 466V470.500 M639.8 466V470.500 M756.2 466V470.500 M872.6 466V470.500" stroke="#111" stroke-width="2.200" fill="none"/>
<path d="M251.00 90.70L263.65 81.30V86.50H276.10V94.90H263.65V100.10Z M251.00 438.80L263.65 429.40V434.60H276.10V443.00H263.65V448.20Z M1003.30 90.70L990.65 81.30V86.50H978.20V94.90H990.65V100.10Z M1003.30 438.80L990.65 429.40V434.60H978.20V443.00H990.65V448.20Z" fill="#0a0a0a"/>
<rect x="973" y="471.500" width="36.700" height="35" fill="#e7e7e7" stroke="#444" stroke-width="1"/>
<rect x="982.300" y="489" width="17.500" height="12.500" fill="#bfbfbf"/>
<path d="M985.400 489.500v-3.500a5.600 6.300 0 0 1 11.200 0v3.500" fill="none" stroke="#bfbfbf" stroke-width="2.200"/>
<rect x="236.600" y="64" width="780.600" height="447.800" fill="none" stroke="#404040" stroke-width="1.300"/>
</svg>
<span class="t" id="axL_0" style="left:16.40px;top:92.76px;font-size:14.39px;line-height:18px;-webkit-text-stroke:0.5px #000;transform:scaleX(1.3297)">0.5</span>
<span class="t" id="axR_0" style="left:743.40px;top:92.76px;font-size:14.39px;line-height:18px;-webkit-text-stroke:0.5px #000;transform:scaleX(1.3297)">0.5</span>
<span class="t" id="axL_1" style="left:16.40px;top:193.26px;font-size:14.39px;line-height:18px;-webkit-text-stroke:0.5px #000;transform:scaleX(1.3297)">0.0</span>
<span class="t" id="axR_1" style="left:743.40px;top:193.26px;font-size:14.39px;line-height:18px;-webkit-text-stroke:0.5px #000;transform:scaleX(1.3297)">0.0</span>
<span class="t" id="axL_2" style="left:13.75px;top:293.76px;font-size:14.39px;line-height:18px;-webkit-text-stroke:0.5px #000;transform:scaleX(1.3006)">-0.5</span>
<span class="t" id="axR_2" style="left:740.75px;top:293.76px;font-size:14.39px;line-height:18px;-webkit-text-stroke:0.5px #000;transform:scaleX(1.3006)">-0.5</span>
<span class="t" id="tm_0" style="left:50.90px;top:423.36px;font-size:16.42px;line-height:20px;-webkit-text-stroke:0.5px #000;transform:scaleX(1.3292)">0.0</span>
<span class="t" id="tm_1" style="left:168.00px;top:423.36px;font-size:16.42px;line-height:20px;-webkit-text-stroke:0.5px #000;transform:scaleX(1.0730)">0.1</span>
<span class="t" id="tm_2" style="left:284.25px;top:423.36px;font-size:16.42px;line-height:20px;-webkit-text-stroke:0.5px #000;transform:scaleX(1.2898)">0.2</span>
<span class="t" id="tm_3" style="left:400.50px;top:423.36px;font-size:16.42px;line-height:20px;-webkit-text-stroke:0.5px #000;transform:scaleX(1.3139)">0.3</span>
<span class="t" id="tm_4" style="left:516.60px;top:423.36px;font-size:16.42px;line-height:20px;-webkit-text-stroke:0.5px #000;transform:scaleX(1.2482)">0.4</span>
<span class="t" id="tm_5" style="left:633.40px;top:423.36px;font-size:16.42px;line-height:20px;-webkit-text-stroke:0.5px #000;transform:scaleX(1.2362)">0.5</span>
</section>
<footer id="bottombar">
<div class="btn loop" style="left:1.3px;top:519.1px;width:81.8px;height:52px"><svg style="left:0;top:0" width="160" height="52" viewBox="1.3 519.1 160 52"><defs><linearGradient id="lg" x1="0" y1="0" x2="0" y2="1"><stop offset="0" stop-color="#3a96dc"/><stop offset="0.5" stop-color="#2670b8"/><stop offset="1" stop-color="#15427f"/></linearGradient></defs><path d="M43.5 545.5C39.5 540.1 36 536.6 31.4 536.6a8.900 8.900 0 0 0 0 17.800C36 554.4 39.5 550.9 43.5 545.5C47.5 540.1 51 536.6 55.6 536.6a8.900 8.900 0 0 1 0 17.800C51 554.4 47.5 550.9 43.5 545.5z" fill="none" stroke="#16223c" stroke-opacity="0.700" stroke-width="4.300"/><path d="M43.5 545.5C39.5 540.1 36 536.6 31.4 536.6a8.900 8.900 0 0 0 0 17.800C36 554.4 39.5 550.9 43.5 545.5C47.5 540.1 51 536.6 55.6 536.6a8.900 8.900 0 0 1 0 17.800C51 554.4 47.5 550.9 43.5 545.5z" fill="none" stroke="url(#lg)" stroke-width="3"/></svg></div>
<div class="btn play" style="left:85px;top:519.1px;width:119.6px;height:52px"><svg style="left:0;top:0" width="160" height="52" viewBox="85 519.1 160 52"><path d="M135.200 534v22.400l22.800-11.200z" fill="#149514"/></svg></div>
<div class="btn stop" style="left:206.4px;top:519.1px;width:120.0px;height:52px"><svg style="left:0;top:0" width="160" height="52" viewBox="206.4 519.1 160 52"><rect x="257.300" y="536.400" width="18.200" height="18.200" fill="#111"/></svg></div>
<div class="btn rec" style="left:328.2px;top:519.1px;width:120.0px;height:52px"><svg style="left:0;top:0" width="160" height="52" viewBox="328.2 519.1 160 52"><circle cx="387.800" cy="545.300" r="9.700" fill="#8f0d0d"/></svg></div>
<div id="info">
<span class="t" id="inf_1" style="left:8.70px;top:2.95px;font-size:18.75px;line-height:23px;color:#a2a2a2;-webkit-text-stroke:0.5px #a2a2a2;transform:scaleX(1.0907)">Hello</span>
<span class="t" id="inf_20" style="left:8.20px;top:26.10px;font-size:18.75px;line-height:23px;color:#a2a2a2;-webkit-text-stroke:0.5px #a2a2a2;transform:scaleX(1.2149)">00:00.578</span>
<span class="t" id="inf_21" style="left:119.40px;top:26.10px;font-size:18.75px;line-height:23px;color:#a2a2a2;-webkit-text-stroke:0.5px #a2a2a2;transform:scaleX(1.0059)">16bit</span>
<span class="t" id="inf_22" style="left:173.40px;top:26.10px;font-size:18.75px;line-height:23px;color:#a2a2a2;-webkit-text-stroke:0.5px #a2a2a2;transform:scaleX(1.0440)">44.1</span>
<span class="t" id="inf_23" style="left:217.50px;top:26.10px;font-size:18.75px;line-height:23px;color:#a2a2a2;-webkit-text-stroke:0.5px #a2a2a2;transform:scaleX(1.0916)">kHz</span>
<span class="t" id="inf_24" style="left:262.40px;top:26.10px;font-size:18.75px;line-height:23px;color:#a2a2a2;-webkit-text-stroke:0.5px #a2a2a2;transform:scaleX(1.1264)">Mono</span>
</div>
<div class="btn done" style="left:874.2px;top:519.1px;width:146.1px;height:52px"><span class="t" id="done" style="left:18.20px;top:13.10px;font-size:21.80px;line-height:27px;-webkit-text-stroke:0.5px #000;transform:scaleX(1.1448)">Done</span><svg style="left:0;top:0" width="160" height="52" viewBox="874.2 519.1 160 52"><path d="M969.300 549.300L978.500 544.700L983 550.400Q992 537 1002.100 529Q1001.300 535 1002.800 540.500Q992 549 983.800 561.800Z" fill="#2db511" stroke="#208a0c" stroke-width="0.800" stroke-linejoin="round"/></svg></div>
</footer>
</body></html>
